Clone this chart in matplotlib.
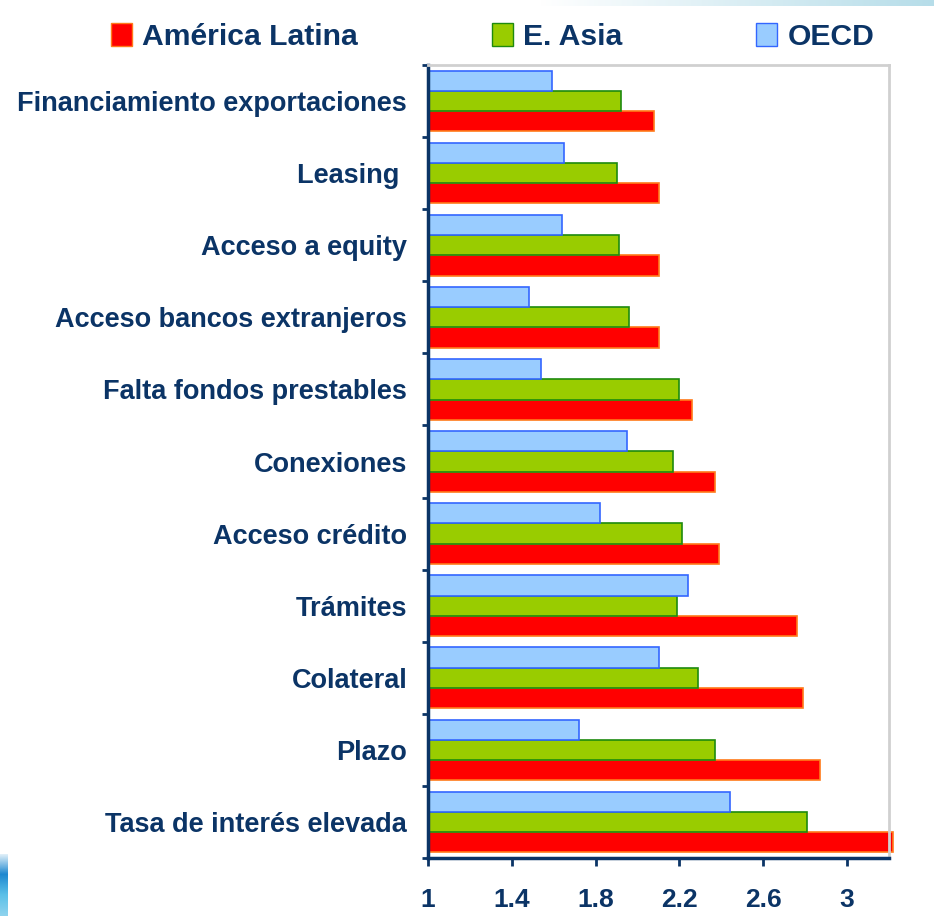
import matplotlib
matplotlib.use('Agg')
import matplotlib.pyplot as plt
import numpy as np
from matplotlib.patches import Patch

plt.rcParams['font.family'] = ['Liberation Sans', 'DejaVu Sans']

categories = ['Financiamiento exportaciones', 'Leasing ', 'Acceso a equity',
              'Acceso bancos extranjeros', 'Falta fondos prestables', 'Conexiones',
              'Acceso crédito', 'Trámites', 'Colateral', 'Plazo',
              'Tasa de interés elevada']
america_latina = [2.08, 2.10, 2.10, 2.10, 2.26, 2.37, 2.39, 2.76, 2.79, 2.87, 3.22]
e_asia = [1.92, 1.90, 1.91, 1.96, 2.20, 2.17, 2.21, 2.19, 2.29, 2.37, 2.81]
oecd = [1.59, 1.65, 1.64, 1.48, 1.54, 1.95, 1.82, 2.24, 2.10, 1.72, 2.44]
x_ticks = [1, 1.4, 1.8, 2.2, 2.6, 3]
x_ticklabels = ['1', '1.4', '1.8', '2.2', '2.6', '3']

navy = '#0B3466'

fig = plt.figure(figsize=(9.34, 9.16), dpi=100)
ax = fig.add_axes([428 / 934, 1 - 858 / 916, 461 / 934, 793 / 916])

n = len(categories)
y = np.arange(n)[::-1]  # first category on top
h = 0.28
base = 1

ax.barh(y - h, np.array(america_latina) - base, left=base, height=h,
        color='#FF0000', edgecolor='#FF7A1A', linewidth=1.2, clip_on=False)
ax.barh(y, np.array(e_asia) - base, left=base, height=h,
        color='#99CC00', edgecolor='#1E8A0E', linewidth=1.2)
ax.barh(y + h, np.array(oecd) - base, left=base, height=h,
        color='#99CCFF', edgecolor='#3366FF', linewidth=1.2)

ax.set_xlim(1, 3.2)
ax.set_ylim(-0.5, n - 0.5)

ax.set_xticks(x_ticks)
ax.set_xticklabels(x_ticklabels)
ax.set_yticks(y)
ax.set_yticklabels(categories)
ax.set_yticks(np.arange(n + 1) - 0.5, minor=True)

# sizes in points (1 pt = 1.389 px at 100 dpi)
ax.tick_params(axis='y', which='major', length=0, pad=15)
ax.tick_params(axis='y', which='minor', length=4.3, width=2, color=navy, direction='out')
ax.tick_params(axis='x', length=5.8, width=2, color=navy, direction='out', pad=16)
for lab in ax.get_yticklabels() + ax.get_xticklabels():
    lab.set_fontweight('bold')
    lab.set_color(navy)
for lab in ax.get_yticklabels():
    lab.set_fontsize(19.5)
for lab in ax.get_xticklabels():
    lab.set_fontsize(19)

for side in ['left', 'bottom']:
    ax.spines[side].set_color(navy)
    ax.spines[side].set_linewidth(2.5)
for side in ['right', 'top']:
    ax.spines[side].set_color('#D0D0D0')
    ax.spines[side].set_linewidth(2)

# legend across the top
handles = [Patch(facecolor='#FF0000', edgecolor='#FF7A1A', label='América Latina'),
           Patch(facecolor='#99CC00', edgecolor='#1E8A0E', label='E. Asia'),
           Patch(facecolor='#99CCFF', edgecolor='#3366FF', label='OECD')]
leg = fig.legend(handles=handles, loc='center left', bbox_to_anchor=(111 / 934, 1 - 37 / 916),
                 ncol=3, frameon=False, columnspacing=4.45, handlelength=0.7,
                 handleheight=0.75, handletextpad=0.33, borderpad=0, borderaxespad=0,
                 prop={'weight': 'bold', 'size': 21.7})
for t in leg.get_texts():
    t.set_color(navy)

# light gradient strip at the top right
strip = fig.add_axes([540 / 934, 1 - 6 / 916, 394 / 934, 6 / 916])
grad = np.linspace(0, 1, 256).reshape(1, -1)
strip.imshow(grad, aspect='auto', cmap=matplotlib.colors.LinearSegmentedColormap.from_list(
    'g', ['#FFFFFF', '#B6DDE9']))
strip.axis('off')

# logo fragment at bottom left
logo = fig.add_axes([0, 0, 8 / 934, 62 / 916])
lg = np.linspace(0, 1, 64).reshape(-1, 1)
logo.imshow(lg, aspect='auto', cmap=matplotlib.colors.LinearSegmentedColormap.from_list(
    'l', ['#E8F4FA', '#1E88D0', '#5BC0E8', '#8FD3EE']))
logo.axis('off')

fig.savefig('out.png', dpi=100)
